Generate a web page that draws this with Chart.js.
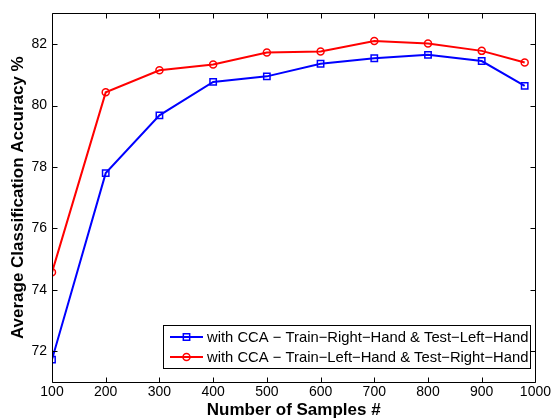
<!DOCTYPE html>
<html>
<head>
    <title>Average Classification Accuracy</title>
    <style>
        body { margin: 0; background: #fff; }
        #wrap { width: 553px; height: 420px; }
    </style>
    <script src="https://cdn.jsdelivr.net/npm/chart.js"></script>
</head>
<body>
<div id="wrap"><canvas id="graph" width="553" height="420"></canvas></div>
<script>
    // values
    const samples = [100, 200, 300, 400, 500, 600, 700, 800, 900, 980];
    const rightToLeft = [71.73, 77.80, 79.68, 80.77, 80.95, 81.36, 81.54, 81.65, 81.45, 80.64];
    const leftToRight = [74.57, 80.43, 81.15, 81.34, 81.73, 81.76, 82.10, 82.02, 81.78, 81.40];
    const xTicks = [100, 200, 300, 400, 500, 600, 700, 800, 900, 1000];
    const yTicks = [72, 74, 76, 78, 80, 82];
    const seriesNames = [
        'with CCA \u2212 Train\u2212Right\u2212Hand & Test\u2212Left\u2212Hand',
        'with CCA \u2212 Train\u2212Left\u2212Hand & Test\u2212Right\u2212Hand'
    ];

    const FONT = '"Liberation Sans", Arial, Helvetica, sans-serif';

    // matlab style box, inward ticks on all four sides, legend inside the axes
    const matlabAxes = {
        id: 'matlabAxes',
        afterDatasetsDraw(chart) {
            const ctx = chart.ctx;
            const a = chart.chartArea;
            const xs = chart.scales.x, ys = chart.scales.y;
            const L = Math.round(a.left) + 0.5, R = Math.round(a.right) + 0.5;
            const T = Math.round(a.top) + 0.5, B = Math.round(a.bottom) + 0.5;
            ctx.save();
            ctx.strokeStyle = '#000';
            ctx.lineWidth = 1;
            ctx.beginPath();
            ctx.rect(L, T, R - L, B - T);
            xTicks.forEach(v => {
                const px = Math.round(xs.getPixelForValue(v)) + 0.5;
                ctx.moveTo(px, B); ctx.lineTo(px, B - 5);
                ctx.moveTo(px, T); ctx.lineTo(px, T + 5);
            });
            yTicks.forEach(v => {
                const py = Math.round(ys.getPixelForValue(v)) + 0.5;
                ctx.moveTo(L, py); ctx.lineTo(L + 5, py);
                ctx.moveTo(R, py); ctx.lineTo(R - 5, py);
            });
            ctx.stroke();

            // legend
            const bx = 163.5, by = 325.5, bw = 367, bh = 43;
            ctx.fillStyle = '#fff';
            ctx.fillRect(bx, by, bw, bh);
            ctx.strokeRect(bx, by, bw, bh);
            ctx.font = '14.8px ' + FONT;
            ctx.textBaseline = 'middle';
            chart.data.datasets.forEach((ds, i) => {
                const cy = 337 + i * 20;
                ctx.strokeStyle = ds.borderColor;
                ctx.lineWidth = 2;
                ctx.beginPath();
                ctx.moveTo(170, cy); ctx.lineTo(203, cy);
                ctx.stroke();
                ctx.lineWidth = 1.5;
                ctx.fillStyle = 'rgba(0,0,0,0)';
                Chart.helpers.drawPoint(ctx, {
                    pointStyle: ds.pointStyle,
                    radius: ds.pointRadius,
                    borderWidth: 1.5
                }, 186.5, cy);
                ctx.fillStyle = '#000';
                ctx.fillText(ds.label, 207, cy + 1);
            });
            ctx.restore();
        }
    };

    new Chart(document.getElementById('graph'), {
        type: 'line',
        data: {
            datasets: [{
                label: seriesNames[0],
                data: samples.map((x, i) => ({ x: x, y: rightToLeft[i] })),
                borderColor: '#0000ff',
                backgroundColor: 'transparent',
                borderWidth: 2,
                pointStyle: 'rect',
                pointRadius: 4.5,
                pointBorderWidth: 1.5,
                pointBackgroundColor: 'transparent',
                tension: 0
            }, {
                label: seriesNames[1],
                data: samples.map((x, i) => ({ x: x, y: leftToRight[i] })),
                borderColor: '#ff0000',
                backgroundColor: 'transparent',
                borderWidth: 2,
                pointStyle: 'circle',
                pointRadius: 3.5,
                pointBorderWidth: 1.5,
                pointBackgroundColor: 'transparent',
                tension: 0
            }]
        },
        options: {
            responsive: false,
            animation: false,
            devicePixelRatio: 1,
            layout: { padding: { left: 0, top: 12, right: 17, bottom: 0 } },
            plugins: {
                legend: { display: false },
                tooltip: { enabled: false }
            },
            scales: {
                x: {
                    type: 'linear',
                    min: 100,
                    max: 1000,
                    grid: { display: false, drawTicks: false },
                    border: { display: false },
                    afterBuildTicks: s => { s.ticks = xTicks.map(v => ({ value: v })); },
                    afterFit: s => { s.height = 38; },
                    ticks: {
                        padding: 2,
                        color: '#000',
                        maxRotation: 0,
                        callback: v => String(v),
                        font: { family: FONT, size: 14 }
                    },
                    title: {
                        display: true,
                        text: 'Number of Samples #',
                        color: '#000',
                        padding: { top: 0, bottom: -1 },
                        font: { family: FONT, size: 17, weight: 'bold' }
                    }
                },
                y: {
                    min: 71,
                    max: 83,
                    grid: { display: false, drawTicks: false },
                    border: { display: false },
                    afterBuildTicks: s => { s.ticks = yTicks.map(v => ({ value: v })); },
                    afterFit: s => { s.width = 52; },
                    ticks: {
                        padding: 5,
                        color: '#000',
                        font: { family: FONT, size: 14 }
                    },
                    title: {
                        display: true,
                        text: 'Average Classification Accuracy %',
                        color: '#000',
                        padding: { top: 8, bottom: 0 },
                        font: { family: FONT, size: 17, weight: 'bold' }
                    }
                }
            }
        },
        plugins: [matlabAxes]
    });
</script>
</body>
</html>
